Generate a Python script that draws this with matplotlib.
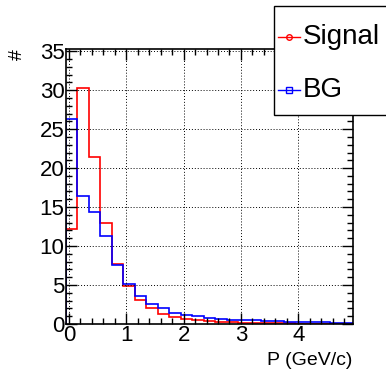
import numpy as np
import matplotlib
matplotlib.use('Agg')
import matplotlib.pyplot as plt
from matplotlib.patches import Rectangle
from matplotlib.lines import Line2D
from matplotlib.ticker import MultipleLocator

plt.rcParams['font.family'] = ['Liberation Sans', 'DejaVu Sans']

# momentum histograms, 25 bins of 0.2 GeV/c
bin_edges = -0.05 + 0.2 * np.arange(26)
signal = [12.2, 30.3, 21.4, 13.0, 7.7, 4.9, 3.1, 2.0, 1.3, 0.9,
          0.65, 0.45, 0.35, 0.25, 0.2, 0.15, 0.1, 0.08, 0.06, 0.05,
          0.04, 0.03, 0.03, 0.02, 0.02]
bg = [26.3, 16.4, 14.4, 11.3, 7.6, 5.1, 3.6, 2.6, 2.0, 1.4,
      1.15, 0.95, 0.8, 0.65, 0.55, 0.5, 0.45, 0.4, 0.35, 0.3,
      0.25, 0.22, 0.2, 0.17, 0.15]
labels = ['Signal', 'BG']
colors = ['#ff0000', '#0000ff']

fig = plt.figure(figsize=(3.86, 3.71), dpi=100)
ax = fig.add_axes([0.171, 0.127, 0.743, 0.741])

ax.stairs(signal, bin_edges, color=colors[0], lw=1.2, baseline=0)
ax.stairs(bg, bin_edges, color=colors[1], lw=1.2, baseline=0)

ax.set_xlim(-0.05, 4.95)
ax.set_ylim(0, 35.3)
ax.xaxis.set_major_locator(MultipleLocator(1))
ax.xaxis.set_minor_locator(MultipleLocator(0.2))
ax.yaxis.set_major_locator(MultipleLocator(5))
ax.yaxis.set_minor_locator(MultipleLocator(1))
ax.tick_params(which='both', direction='in', top=True, right=True, width=1)
ax.tick_params(which='major', length=8, labelsize=16, pad=1)
ax.tick_params(which='minor', length=4)
for s in ax.spines.values():
    s.set_linewidth(1.2)
ax.grid(True, which='major', color='black', ls=(0, (1, 2)), lw=0.7)

ax.set_xlabel('P (GeV/c)', fontsize=14, loc='right', labelpad=4)
ax.set_ylabel('#', fontsize=14, loc='top', labelpad=10)

# legend box in the upper right corner
fig.patches.append(Rectangle((274 / 386, 1 - 115 / 371), 0.4, 109 / 371,
                             transform=fig.transFigure, fill=True,
                             facecolor='white', edgecolor='black', lw=1,
                             clip_on=False, zorder=5))
for i, (lab, col, mk) in enumerate(zip(labels, colors, ['o', 's'])):
    y = 1 - (37 + 53 * i) / 371
    fig.add_artist(Line2D([278 / 386, 300 / 386], [y, y], color=col, lw=1,
                          transform=fig.transFigure, zorder=6))
    fig.add_artist(Line2D([289 / 386], [y], color=col, marker=mk,
                          markersize=4, markerfacecolor='none', mew=1,
                          transform=fig.transFigure, zorder=6))
    fig.text(303 / 386, y, lab, fontsize=20, va='center', ha='left', zorder=7)

plt.savefig('out.png', dpi=100)
